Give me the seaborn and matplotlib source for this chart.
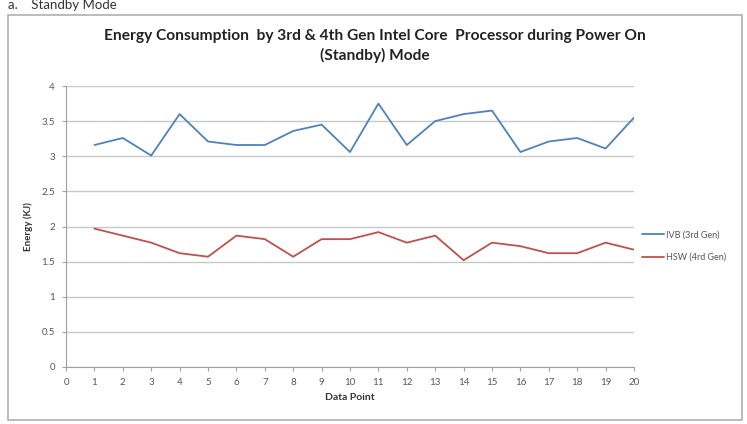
import pandas as pd
import matplotlib.pyplot as plt
import seaborn as sns
import numpy as np
from matplotlib.patches import Rectangle

# data
points = list(range(1, 21))
ivb = [3.16, 3.26, 3.01, 3.60, 3.21, 3.16, 3.16, 3.36, 3.45, 3.06,
       3.75, 3.16, 3.50, 3.60, 3.65, 3.06, 3.21, 3.26, 3.11, 3.55]
hsw = [1.97, 1.87, 1.77, 1.62, 1.57, 1.87, 1.82, 1.57, 1.82, 1.82,
       1.92, 1.77, 1.87, 1.52, 1.77, 1.72, 1.62, 1.62, 1.77, 1.67]
series_names = ['IVB (3rd Gen)', 'HSW (4rd Gen)']

df = pd.DataFrame({'Data Point': points * 2,
                   'Energy': ivb + hsw,
                   'Series': [series_names[0]] * 20 + [series_names[1]] * 20})

sns.set_style('white')
plt.rcParams['font.family'] = ['Lato', 'DejaVu Sans']

fig = plt.figure(figsize=(7.47, 4.24), dpi=100)
ax = fig.add_axes([66 / 747, 1 - 367 / 424, (634 - 66) / 747, (367 - 86) / 424])

sns.lineplot(data=df, x='Data Point', y='Energy', hue='Series',
             palette=['#4F81BD', '#C0504D'], linewidth=1.3, ax=ax)

ax.set_xlim(0, 20)
ax.set_ylim(0, 4)
ax.set_xticks(np.arange(0, 21, 1))
ax.set_yticks(np.arange(0, 4.01, 0.5))
ax.set_yticklabels(['0', '0.5', '1', '1.5', '2', '2.5', '3', '3.5', '4'])
ax.yaxis.grid(True, color='#C8C8C8', linewidth=1)
ax.xaxis.grid(False)
for s in ['top', 'right']:
    ax.spines[s].set_visible(False)
ax.spines['left'].set_color('#A0A0A0')
ax.spines['bottom'].set_color('#A0A0A0')
ax.tick_params(axis='x', length=3, color='#A0A0A0', labelsize=7, labelcolor='#555555', pad=5, direction='out', bottom=True)
ax.tick_params(axis='y', length=3, color='#A0A0A0', labelsize=7, labelcolor='#555555', pad=5, left=True)
ax.set_xlabel('Data Point', fontsize=7.5, fontweight='bold', color='#333333', labelpad=4)
ax.set_ylabel('Energy (KJ)', fontsize=7, fontweight='bold', color='#333333', labelpad=6)

leg = ax.legend(loc='center left', bbox_to_anchor=(1.0, 0.43), frameon=False,
                fontsize=6.5, handlelength=2.4, labelspacing=1.5, handletextpad=0.2)
for t in leg.get_texts():
    t.set_color('#555555')

fig.text(375 / 747, 1 - 46 / 424,
         'Energy Consumption  by 3rd & 4th Gen Intel Core  Processor during Power On\n(Standby) Mode',
         ha='center', va='center', fontsize=11.2, fontweight='bold', color='#222222', linespacing=1.4)

fig.text(8 / 747, 1 - 5 / 424, 'a.    Standby Mode', ha='left', va='center', fontsize=9.5, color='#333333')

fig.patches.append(Rectangle((8 / 747, 1 - 420 / 424), (742 - 8) / 747, (420 - 15) / 424,
                             transform=fig.transFigure, fill=False, edgecolor='#B0B0B0', linewidth=1.2))

fig.savefig('out.png', dpi=100)
